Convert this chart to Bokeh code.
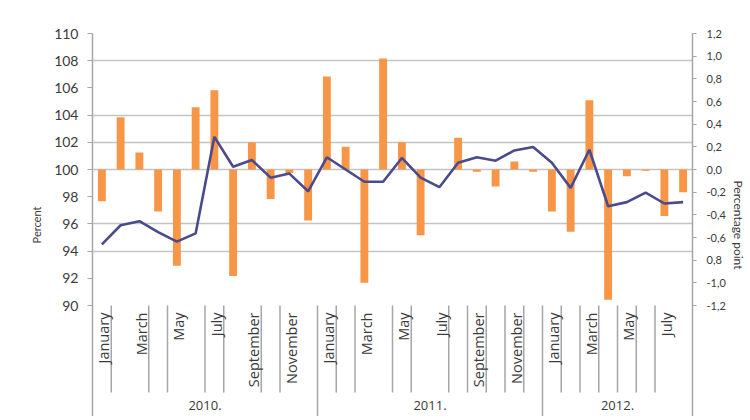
import math
from bokeh.plotting import figure
from bokeh.models import Range1d, LinearAxis, FixedTicker
from bokeh.core.properties import value
from bokeh.embed import file_html
from bokeh.resources import INLINE

# ---------------- data ----------------
months = ["January", "February", "March", "April", "May", "June", "July",
          "August", "September", "October", "November", "December"] * 2 + \
         ["January", "February", "March", "April", "May", "June", "July", "August"]
years = ["2010.", "2011.", "2012."]
year_counts = [12, 12, 8]

index_percent = [94.5, 95.9, 96.2, 95.4, 94.7, 95.3, 102.4, 100.2, 100.7, 99.4, 99.7, 98.4,
                 100.9, 100.0, 99.1, 99.1, 100.85, 99.4, 98.7, 100.5, 100.9, 100.65, 101.4, 101.65,
                 100.5, 98.65, 101.45, 97.3, 97.6, 98.3, 97.5, 97.6]
change_pp = [-0.28, 0.46, 0.15, -0.37, -0.85, 0.55, 0.70, -0.94, 0.24, -0.26, -0.03, -0.45,
             0.82, 0.20, -1.00, 0.98, 0.24, -0.58, 0.0, 0.28, -0.02, -0.15, 0.07, -0.02,
             -0.37, -0.55, 0.61, -1.15, -0.06, -0.01, -0.41, -0.20]

left_ticks = [90, 92, 94, 96, 98, 100, 102, 104, 106, 108, 110]
right_ticks = [-1.2, -1.0, -0.8, -0.6, -0.4, -0.2, 0.0, 0.2, 0.4, 0.6, 0.8, 1.0, 1.2]
right_tick_labels = ["-1,2", "-1,0", "0,8", "-0,6", "-0,4", "-0,2", "0,0",
                     "0,2", "0,4", "0,6", "0,8", "1,0", "1,2"]
grid_values = [94, 96, 100, 102, 104, 108, 110]
separator_positions = [1, 3, 4, 6, 7, 9, 10, 13, 14, 16, 17, 19, 20, 21, 22, 23,
                       25, 26, 27, 28, 29, 30]

# ---------------- layout ----------------
W, H = 748, 416
border_left, border_right, border_top = 92, 56, 33
px_per_unit = 272.0 / 20.0              # left axis: 20 units over 272 px
frame_h = H - border_top
y_top = 110.0
y_bottom = y_top - frame_h / px_per_unit
pp_scale = 0.12                          # 1 left unit = 0.12 pp, 100 <-> 0


def win_y(px):
    """canvas-pixel y -> left-axis data value"""
    return y_top - (px - border_top) / px_per_unit


n = len(months)
x_pos = [i + 0.5 for i in range(n)]

p = figure(width=W, height=H, output_backend="svg", toolbar_location=None,
           x_range=Range1d(0, n), y_range=Range1d(y_bottom, y_top),
           min_border_left=border_left, min_border_right=border_right,
           min_border_top=border_top, min_border_bottom=0,
           x_axis_location=None, y_axis_location=None)
p.extra_y_ranges = {"pp": Range1d((y_bottom - 100) * pp_scale, (y_top - 100) * pp_scale)}
p.outline_line_color = None
p.background_fill_color = "white"
p.border_fill_color = "white"
p.xgrid.visible = False
p.ygrid.ticker = FixedTicker(ticks=grid_values)
p.ygrid.grid_line_color = "#C4C4C4"
p.ygrid.grid_line_width = 1.6

axis_color = "#A6A6A6"
label_color = "#3A3A3A"

left = LinearAxis(ticker=FixedTicker(ticks=left_ticks), axis_label="Percent")
left.axis_line_color = axis_color
left.axis_line_width = 1.5
left.major_tick_line_color = axis_color
left.major_tick_out = 5
left.major_tick_in = 0
left.minor_tick_line_color = None
left.major_label_standoff = 9
left.major_label_text_font = "Lato"
left.major_label_text_font_size = "14px"
left.major_label_text_color = label_color
left.axis_label_text_font = "Lato"
left.axis_label_text_font_size = "11px"
left.axis_label_text_font_style = "normal"
left.axis_label_text_color = label_color
left.axis_label_standoff = 8
p.add_layout(left, "left")

right = LinearAxis(y_range_name="pp", ticker=FixedTicker(ticks=right_ticks),
                   axis_label="Percentage point")
right.major_label_overrides = {t: s for t, s in zip(right_ticks, right_tick_labels)}
right.axis_line_color = axis_color
right.axis_line_width = 1.5
right.major_tick_line_color = axis_color
right.major_tick_out = 4
right.major_tick_in = 0
right.minor_tick_line_color = None
right.major_label_standoff = 10
right.major_label_text_font = "Lato"
right.major_label_text_font_size = "11px"
right.major_label_text_color = label_color
right.axis_label_text_font = "Lato"
right.axis_label_text_font_size = "12px"
right.axis_label_text_font_style = "normal"
right.axis_label_text_color = label_color
right.axis_label_standoff = 2
p.add_layout(right, "right")

# bars (percentage points, right axis)
p.vbar(x=x_pos, top=change_pp, bottom=0, width=0.42, y_range_name="pp",
       fill_color="#F79646", line_color=None)

# line (percent, left axis)
p.line(x=x_pos, y=index_percent, line_color="#4A4A8C", line_width=2.6)

# month separators and year boundaries
axis_y = win_y(305)
sep_end = win_y(392)
p.segment(x0=separator_positions, y0=[axis_y] * len(separator_positions),
          x1=separator_positions, y1=[sep_end] * len(separator_positions),
          line_color=axis_color, line_width=1.5)
bounds = []
acc = 0
for c in year_counts[:-1]:
    acc += c
    bounds.append(acc)
p.segment(x0=bounds, y0=[axis_y] * len(bounds), x1=bounds, y1=[y_bottom] * len(bounds),
          line_color=axis_color, line_width=1.5)

# month labels (every other month)
lab_idx = [i for i in range(n) if i % 2 == 0]
p.text(x=[x_pos[i] + 0.1 for i in lab_idx], y=[win_y(312)] * len(lab_idx),
       text=[months[i] for i in lab_idx], angle=math.pi / 2,
       text_align="right", text_baseline="middle",
       text_font=value("Open Sans"), text_font_size="14.5px", text_color=label_color)

# year labels
year_centers = []
acc = 0
for c in year_counts:
    year_centers.append(acc + c / 2.0)
    acc += c
p.text(x=year_centers, y=[win_y(405)] * len(years), text=years,
       text_align="center", text_baseline="middle",
       text_font=value("Open Sans"), text_font_size="13px", text_color=label_color)

open("out.html", "w").write(file_html(p, INLINE))
